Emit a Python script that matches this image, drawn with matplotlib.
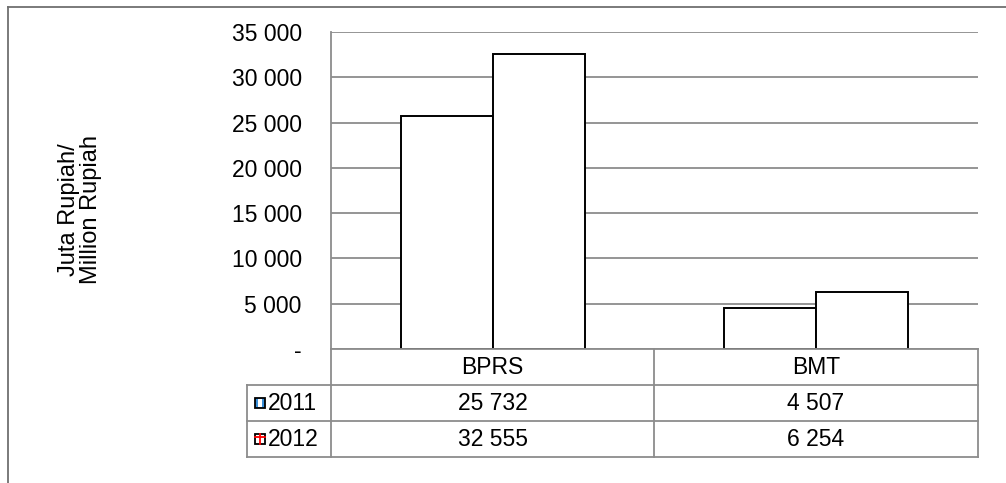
import matplotlib.pyplot as plt
import numpy as np
from matplotlib.lines import Line2D
from matplotlib.patches import Rectangle

plt.rcParams['font.family'] = ['Liberation Sans', 'DejaVu Sans']

categories = ["BPRS", "BMT"]
years = ["2011", "2012"]
values_2011 = [25732, 4507]
values_2012 = [32555, 6254]
yticks = [0, 5000, 10000, 15000, 20000, 25000, 30000, 35000]

W, H = 1006, 483
GRID = "#8c8c8c"
FS = 16.5


def fmt(v):
    if v == 0:
        return "-"
    return "{:,}".format(v).replace(",", " ")


def fx(px):
    return px / W


def fy(py):
    return 1 - py / H


fig = plt.figure(figsize=(W / 100, H / 100), dpi=100)

# plot area
left, right, top, bottom = 331, 978, 32, 349
ax = fig.add_axes([fx(left), fy(bottom), fx(right - left), (bottom - top) / H])

x = np.arange(len(categories))
bw = 0.285
ax.bar(x - bw / 2, values_2011, bw, color="white", edgecolor="black", linewidth=1.4, zorder=3)
ax.bar(x + bw / 2, values_2012, bw, color="white", edgecolor="black", linewidth=1.4, zorder=3)

ax.set_xlim(-0.5, 1.5)
ax.set_ylim(0, 35000)
ax.set_yticks(yticks)
ax.set_yticklabels([fmt(v) for v in yticks], fontsize=FS)
ax.tick_params(axis="y", length=0, pad=21)
ax.set_xticks([])
ax.grid(axis="y", color=GRID, linewidth=1.3, zorder=0)
for s in ["top", "right", "bottom"]:
    ax.spines[s].set_visible(False)
ax.spines["left"].set_color(GRID)
ax.spines["left"].set_linewidth(1.3)

fig.text(fx(80), fy(210), "Juta Rupiah/\nMillion Rupiah", rotation=90,
         ha="center", va="center", fontsize=17, linespacing=1.05)

# outer frame (top and left only visible)
fig.add_artist(Line2D([fx(8), 1], [fy(7), fy(7)], color="#707070", lw=1.3))
fig.add_artist(Line2D([fx(8), fx(8)], [fy(7), 0], color="#707070", lw=1.3))

# data table
rows_y = [349, 385, 421, 457]
col_x = [247, 331, 654, 978]
tl = dict(color=GRID, lw=1.3)
fig.add_artist(Line2D([fx(col_x[1]), fx(col_x[3])], [fy(rows_y[0])] * 2, **tl))
for r in rows_y[1:]:
    fig.add_artist(Line2D([fx(col_x[0]), fx(col_x[3])], [fy(r)] * 2, **tl))
fig.add_artist(Line2D([fx(col_x[0])] * 2, [fy(rows_y[1]), fy(rows_y[3])], **tl))
for c in col_x[1:]:
    fig.add_artist(Line2D([fx(c)] * 2, [fy(rows_y[0]), fy(rows_y[3])], **tl))

for i, cat in enumerate(categories):
    cx = (col_x[i + 1] + col_x[i + 2]) / 2
    fig.text(fx(cx), fy((rows_y[0] + rows_y[1]) / 2), cat, ha="center", va="center", fontsize=FS)
    fig.text(fx(cx), fy((rows_y[1] + rows_y[2]) / 2), fmt(values_2011[i]), ha="center", va="center", fontsize=FS)
    fig.text(fx(cx), fy((rows_y[2] + rows_y[3]) / 2), fmt(values_2012[i]), ha="center", va="center", fontsize=FS)

# legend keys + year labels
for j, yr in enumerate(years):
    cy = (rows_y[j + 1] + rows_y[j + 2]) / 2
    k = 10
    kx, ky = 255, cy - k / 2
    if j == 0:
        fig.add_artist(Rectangle((fx(kx), fy(ky + k)), fx(k), k / H, facecolor="#3a8fd8",
                                 edgecolor="black", lw=1.3, transform=fig.transFigure))
        fig.add_artist(Rectangle((fx(kx + 3), fy(ky + k - 1)), fx(k - 6), (k - 2) / H, facecolor="white",
                                 edgecolor="none", transform=fig.transFigure))
    else:
        fig.add_artist(Rectangle((fx(kx), fy(ky + k)), fx(k), k / H, facecolor="white",
                                 edgecolor="black", lw=1.3, transform=fig.transFigure))
        fig.add_artist(Line2D([fx(kx + k / 2)] * 2, [fy(ky), fy(ky + k)], color="red", lw=1.3))
        fig.add_artist(Line2D([fx(kx), fx(kx + k)], [fy(ky + 3)] * 2, color="red", lw=1.3))
    fig.text(fx(268), fy(cy), yr, ha="left", va="center", fontsize=FS)

fig.savefig("out.png", dpi=100)
